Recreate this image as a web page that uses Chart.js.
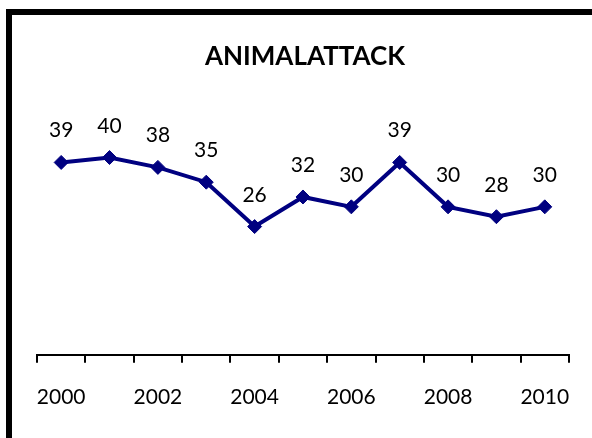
<!DOCTYPE html>
<html>
<head>
<meta charset="utf-8">
<script src="https://cdn.jsdelivr.net/npm/chart.js@4.4.0/dist/chart.umd.min.js"></script>
<style>
    html, body { margin: 0; padding: 0; background: #fff; }
    #wrap { position: relative; width: 592px; height: 438px; overflow: hidden; }
    #frame { position: absolute; left: 6px; top: 9px; width: 700px; height: 600px; border: 6px solid #000; box-sizing: border-box; }
    canvas { position: absolute; left: 0; top: 0; }
</style>
</head>
<body>
<div id="wrap">
    <div id="frame"></div>
    <canvas id="myChart" width="592" height="438"></canvas>
</div>
<script>
// data
const years = ['2000', '2001', '2002', '2003', '2004', '2005', '2006', '2007', '2008', '2009', '2010'];
const attacks = [39, 40, 38, 35, 26, 32, 30, 39, 30, 28, 30];
const yMin = 0;
const yMax = 50;

const fontFamily = 'Lato, "Open Sans", sans-serif';

// draws the value above every point
const valueLabels = {
    id: 'valueLabels',
    afterDatasetsDraw(chart) {
        const ctx = chart.ctx;
        const meta = chart.getDatasetMeta(0);
        ctx.save();
        ctx.font = '21px ' + fontFamily;
        ctx.fillStyle = '#000';
        ctx.textAlign = 'center';
        ctx.textBaseline = 'alphabetic';
        meta.data.forEach((pt, i) => {
            ctx.fillText(String(attacks[i]), pt.x, pt.y - 25);
        });
        ctx.restore();
    }
};

function plotChart() {
    var ctx = document.getElementById('myChart');
    var chart = new Chart(ctx, {
        type: 'line',
        data: {
            labels: years,
            datasets: [
                {
                    label: 'ANIMAL ATTACK',
                    data: attacks,
                    fill: false,
                    borderColor: '#000080',
                    backgroundColor: '#000080',
                    borderWidth: 4,
                    tension: 0,
                    pointStyle: 'rectRot',
                    pointRadius: 7,
                    pointBorderWidth: 1,
                    pointBackgroundColor: '#000080',
                    pointBorderColor: '#000080'
                }
            ]
        },
        options: {
            responsive: false,
            animation: false,
            layout: { padding: { left: 37, right: 19, top: 0, bottom: 6 } },
            scales: {
                x: {
                    offset: true,
                    grid: {
                        offset: true,
                        drawOnChartArea: false,
                        drawTicks: true,
                        tickLength: 8,
                        color: '#000',
                        lineWidth: 2
                    },
                    border: { display: true, color: '#000', width: 2 },
                    ticks: {
                        autoSkip: false,
                        maxRotation: 0,
                        padding: 22,
                        color: '#000',
                        font: { family: fontFamily, size: 21 },
                        callback: function (val, idx) {
                            return idx % 2 === 0 ? this.getLabelForValue(val) : '';
                        }
                    }
                },
                y: {
                    display: false,
                    min: yMin,
                    max: yMax
                }
            },
            plugins: {
                title: {
                    display: true,
                    text: 'ANIMALATTACK',
                    color: '#000',
                    font: { family: fontFamily, size: 26, weight: 'bold' },
                    padding: { top: 41, bottom: 36 }
                },
                legend: { display: false },
                tooltip: { enabled: false }
            }
        },
        plugins: [valueLabels]
    });
}
plotChart();
</script>
</body>
</html>
